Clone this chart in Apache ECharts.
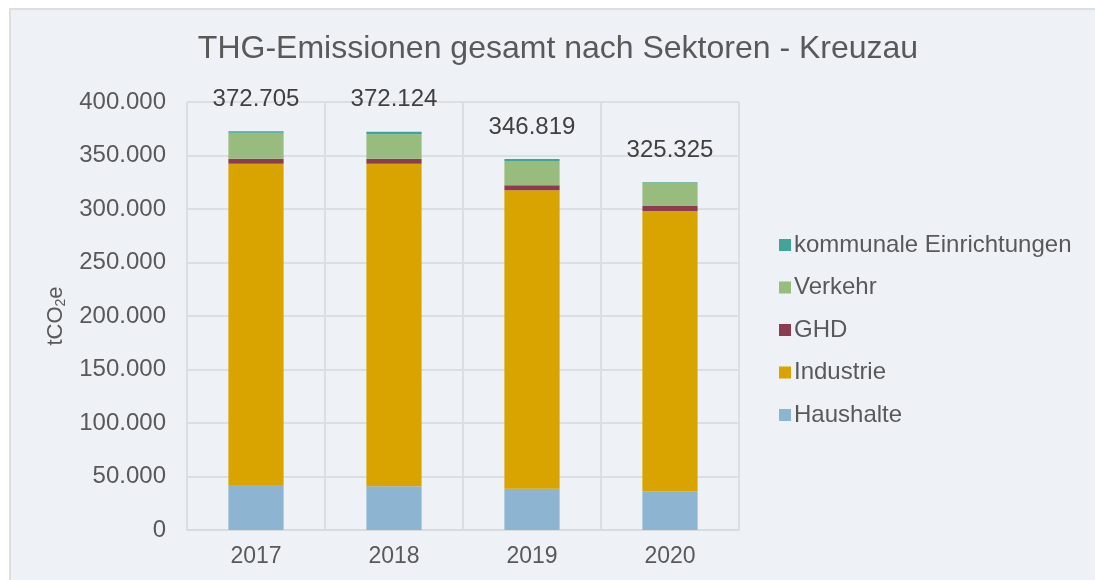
<!DOCTYPE html>
<html>
<head>
<meta charset="utf-8">
<script src="https://cdn.jsdelivr.net/npm/echarts@6/dist/echarts.min.js"></script>
<style>
  html, body { margin: 0; padding: 0; background: #ffffff; overflow: hidden; }
  #wrap { position: absolute; left: 9px; top: 8px; width: 1090px; height: 574px;
          border-left: 2px solid #dcdee0; border-top: 2px solid #dcdee0; background: #eef2f6; }
  #chart { width: 1084px; height: 570px; }
</style>
</head>
<body>
<div id="wrap"><div id="chart"></div></div>
<script>
const categories = ['2017', '2018', '2019', '2020'];
const haushalte = [42000, 40800, 38600, 36100];
const industrie = [300300, 301500, 278900, 262000];
const ghd = [4700, 4700, 4600, 4700];
const verkehr = [24200, 22800, 22800, 21900];
const kommunal = [1505, 2324, 1919, 625];
const totals = [372705, 372124, 346819, 325325];
const yTicks = [0, 50000, 100000, 150000, 200000, 250000, 300000, 350000, 400000];

function fmt(v) {
  return String(v).replace(/\B(?=(\d{3})+(?!\d))/g, '.');
}

const FONT = 'Liberation Sans, Arial, sans-serif';
const chart = echarts.init(document.getElementById('chart'));

const barBase = { type: 'bar', stack: 'total', barWidth: '40%', emphasis: { disabled: true } };

chart.setOption({
  animation: false,
  backgroundColor: 'transparent',
  textStyle: { fontFamily: FONT },
  title: {
    text: 'THG-Emissionen gesamt nach Sektoren - Kreuzau',
    left: 542, top: 18, textAlign: 'center',
    textStyle: { fontFamily: FONT, fontSize: 32, fontWeight: 'normal', color: '#595959' }
  },
  grid: { left: 176, top: 92, width: 552, height: 428, containLabel: false },
  legend: {
    orient: 'vertical', left: 763, top: 218,
    itemWidth: 12, itemHeight: 12, itemGap: 18.5,
    icon: 'rect',
    textStyle: { fontFamily: FONT, fontSize: 24, color: '#595959', padding: [0, 0, 0, -2] },
    data: ['kommunale Einrichtungen', 'Verkehr', 'GHD', 'Industrie', 'Haushalte']
  },
  xAxis: {
    type: 'category', data: categories,
    axisLine: { show: true, lineStyle: { color: '#d9dcdf', width: 2 } },
    axisTick: { show: false },
    splitLine: { show: true, lineStyle: { color: '#dcdfe2', width: 2 } },
    axisLabel: { fontFamily: FONT, fontSize: 23, color: '#595959', margin: 15 }
  },
  yAxis: {
    type: 'value', min: 0, max: 400000, interval: 50000,
    name: '{a|tCO}{b|2}{a|e}', nameLocation: 'middle', nameGap: 112, nameRotate: 90,
    nameTextStyle: {
      rich: {
        a: { fontFamily: FONT, fontSize: 22, color: '#595959' },
        b: { fontFamily: FONT, fontSize: 14, color: '#595959', padding: [10, 0, 0, 0] }
      }
    },
    axisLine: { show: false },
    axisTick: { show: false },
    splitLine: { show: true, lineStyle: { color: '#dcdfe2', width: 2 } },
    axisLabel: {
      fontFamily: FONT, fontSize: 24, color: '#595959', margin: 21,
      formatter: function (v) { return yTicks.indexOf(v) >= 0 ? fmt(v) : ''; }
    }
  },
  series: [
    Object.assign({}, barBase, { name: 'Haushalte', data: haushalte, itemStyle: { color: '#8db4d0' } }),
    Object.assign({}, barBase, { name: 'Industrie', data: industrie, itemStyle: { color: '#d9a300' } }),
    Object.assign({}, barBase, { name: 'GHD', data: ghd, itemStyle: { color: '#8c3b50' } }),
    Object.assign({}, barBase, { name: 'Verkehr', data: verkehr, itemStyle: { color: '#98bb7e' } }),
    Object.assign({}, barBase, {
      name: 'kommunale Einrichtungen', data: kommunal, itemStyle: { color: '#3ea598' },
      label: {
        show: true, position: 'top', distance: 20,
        fontFamily: FONT, fontSize: 24, color: '#404040',
        formatter: function (p) { return fmt(totals[p.dataIndex]); }
      }
    })
  ]
});
</script>
</body>
</html>
